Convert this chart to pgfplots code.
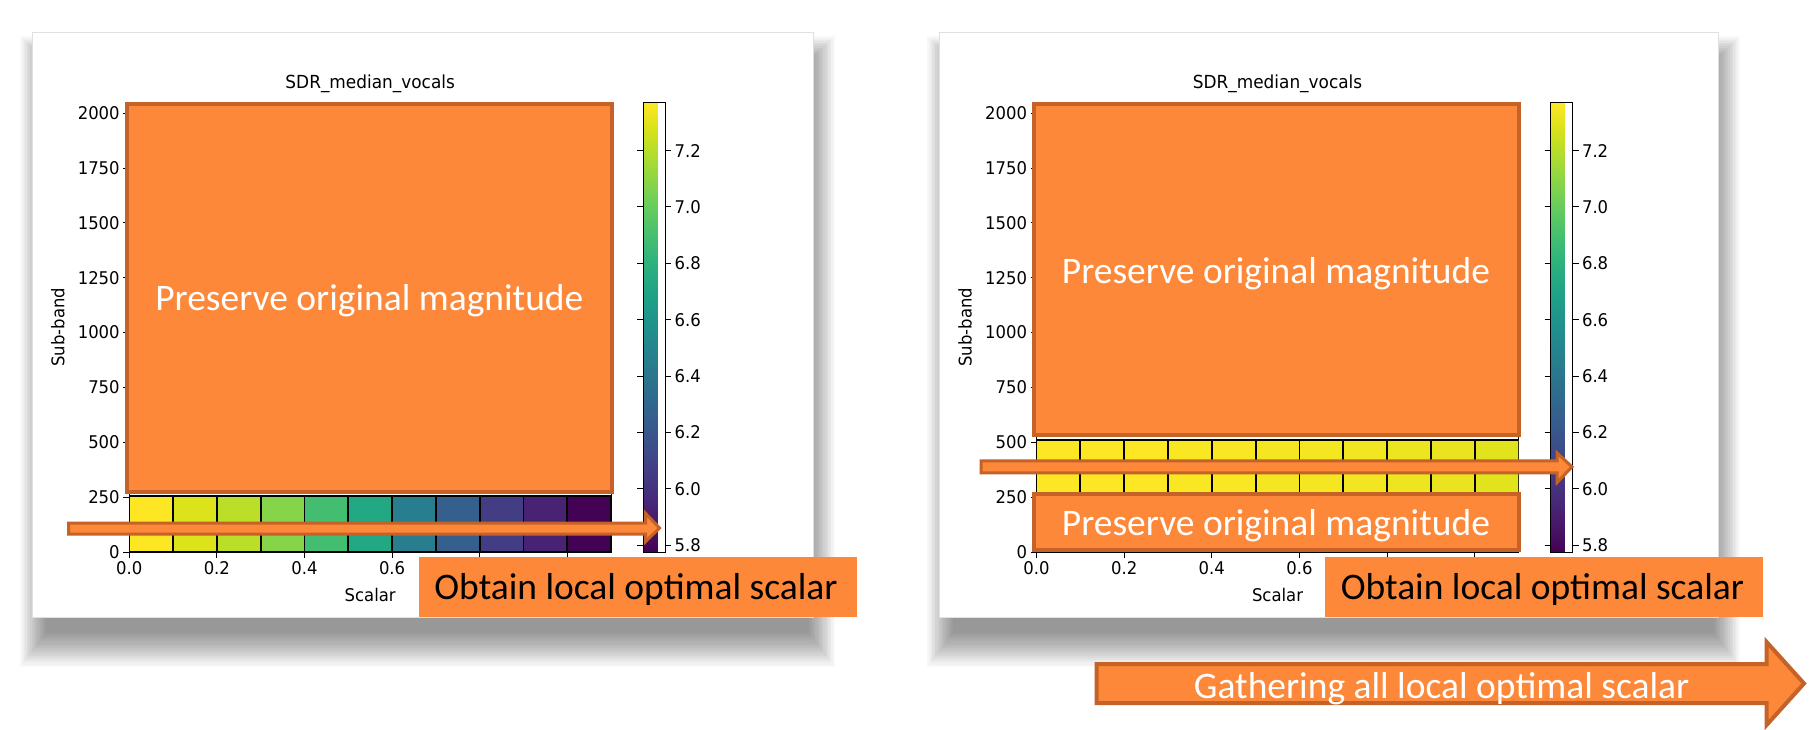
\documentclass[border=0pt]{standalone}
\usepackage{pgfplots}
\pgfplotsset{compat=1.18}
\usepackage{fontspec}
\setmainfont{DejaVu Sans}[FakeStretch=0.94]
\newfontfamily\calfont{Carlito}
\definecolor{org}{RGB}{253,136,57}
\definecolor{orgd}{RGB}{196,98,40}
\pgfkeys{/pgf/number format/assume math mode=true}
\pgfplotsset{
  hm/.style={
    scale only axis, width=482pt, height=449.3pt, anchor=south west,
    xmin=0, xmax=1.1, ymin=0, ymax=2048,
    xtick={0,0.2,0.4,0.6,0.8,1.0}, xticklabels={0.0,0.2,0.4,0.6,{},{}},
    ytick={0,250,500,750,1000,1250,1500,1750,2000},
    yticklabel style={/pgf/number format/set thousands separator={}},
    xtick pos=left, ytick pos=left,
    tick align=outside, major tick length=6pt,
    every tick/.style={black, line width=1pt},
    axis line style={line width=1pt},
    tick label style={font=\fontsize{17.5}{18}\selectfont, text=black},
    title style={font=\fontsize{18}{20}\selectfont},
    label style={font=\fontsize{17.5}{18}\selectfont},
    title={SDR\_median\_vocals},
    xlabel={Scalar}, ylabel={Sub-band},
    x label style={at={(axis description cs:0.5,-0.0964)}, anchor=center},
    y label style={at={(axis description cs:-0.148,0.5)}, anchor=center},
    colormap name=viridis,
    point meta min=5.776, point meta max=7.370,
    colorbar,
    colorbar shift/.style={xshift=32pt},
    colorbar style={
      at={(parent axis.north east)}, anchor=north west,
      scale only axis, width=22pt,
      ytick={5.8,6.0,6.2,6.4,6.6,6.8,7.0,7.2},
      yticklabel style={/pgf/number format/.cd, fixed, fixed zerofill, precision=1},
      tick label style={font=\fontsize{17.5}{18}\selectfont},
      tick align=outside, major tick length=6pt,
      every tick/.style={black, line width=1pt},
      axis line style={line width=1pt},
    },
  },
  cells/.style={patch, patch type=rectangle, shader=faceted, faceted color=black, line width=1.8pt, point meta=explicit},
}
% left panel: sub-band 0-256, one cell per scalar step (corners x y, value c)
\pgfplotstableread{
x y c
0.0 0 7.37
0.1 0 7.37
0.1 256 7.37
0.0 256 7.37
0.1 0 7.29
0.2 0 7.29
0.2 256 7.29
0.1 256 7.29
0.2 0 7.21
0.3 0 7.21
0.3 256 7.21
0.2 256 7.21
0.3 0 7.08
0.4 0 7.08
0.4 256 7.08
0.3 256 7.08
0.4 0 6.89
0.5 0 6.89
0.5 256 6.89
0.4 256 6.89
0.5 0 6.73
0.6 0 6.73
0.6 256 6.73
0.5 256 6.73
0.6 0 6.45
0.7 0 6.45
0.7 256 6.45
0.6 256 6.45
0.7 0 6.25
0.8 0 6.25
0.8 256 6.25
0.7 256 6.25
0.8 0 6.06
0.9 0 6.06
0.9 256 6.06
0.8 256 6.06
0.9 0 5.93
1.0 0 5.93
1.0 256 5.93
0.9 256 5.93
1.0 0 5.78
1.1 0 5.78
1.1 256 5.78
1.0 256 5.78
}\leftdata
% right panel: sub-band 256-512
\pgfplotstableread{
x y c
0.0 256 7.37
0.1 256 7.37
0.1 512 7.37
0.0 512 7.37
0.1 256 7.37
0.2 256 7.37
0.2 512 7.37
0.1 512 7.37
0.2 256 7.37
0.3 256 7.37
0.3 512 7.37
0.2 512 7.37
0.3 256 7.36
0.4 256 7.36
0.4 512 7.36
0.3 512 7.36
0.4 256 7.36
0.5 256 7.36
0.5 512 7.36
0.4 512 7.36
0.5 256 7.35
0.6 256 7.35
0.6 512 7.35
0.5 512 7.35
0.6 256 7.35
0.7 256 7.35
0.7 512 7.35
0.6 512 7.35
0.7 256 7.34
0.8 256 7.34
0.8 512 7.34
0.7 512 7.34
0.8 256 7.33
0.9 256 7.33
0.9 512 7.33
0.8 512 7.33
0.9 256 7.32
1.0 256 7.32
1.0 512 7.32
0.9 512 7.32
1.0 256 7.30
1.1 256 7.30
1.1 512 7.30
1.0 512 7.30
}\rightdata
\begin{document}
\begin{tikzpicture}
\begin{scope}[x=1pt,y=1pt]
\useasboundingbox (0,0) rectangle (1809,729);
\fill[white] (0,0) rectangle (1809,729);
% card shadows
\foreach \k in {0,...,16}{
  \fill[black, opacity=0.027] (46-\k*1.6, 96-\k*2.1) rectangle (809+\k*1.6, 667+\k*1.6);
  \fill[black, opacity=0.027] (953-\k*1.6, 96-\k*2.1) rectangle (1714+\k*1.6, 667+\k*1.6);
}
% cards
\filldraw[fill=white, draw=black!12, line width=0.8pt] (32,112) rectangle (813,697);
\filldraw[fill=white, draw=black!12, line width=0.8pt] (939,112) rectangle (1718,697);
\end{scope}
% left panel
\begin{axis}[hm, at={(129.2pt,177pt)}]
\addplot[cells] table[x=x, y=y, meta=c] {\leftdata};
\end{axis}
% right panel
\begin{axis}[hm, at={(1036.5pt,177pt)}]
\addplot[cells] table[x=x, y=y, meta=c] {\rightdata};
\end{axis}
\begin{scope}[x=1pt,y=1pt]
% overlays left
\filldraw[fill=org, draw=orgd, line width=4pt] (127,237) rectangle (612,625.3);
\node[anchor=base, text=white, font=\calfont\fontsize{37.5}{40}\selectfont] at (369.3,418.2) {Preserve original magnitude};
\filldraw[fill=org, draw=orgd, line width=3pt, line join=miter]
  (68.5,195) -- (645.7,195) -- (645.7,187.5) -- (659.5,201) -- (645.7,215.5) -- (645.7,206) -- (68.5,206) -- cycle;
\fill[org] (419,112) rectangle (857,172.5);
\node[anchor=base, text=black, font=\calfont\fontsize{37.5}{40}\selectfont] at (636,130) {Obtain local optimal scalar};
% overlays right
\filldraw[fill=org, draw=orgd, line width=4pt] (1033.7,293.7) rectangle (1518.7,625.3);
\node[anchor=base, text=white, font=\calfont\fontsize{37.5}{40}\selectfont] at (1275.9,445) {Preserve original magnitude};
\filldraw[fill=org, draw=orgd, line width=4pt] (1033.7,179) rectangle (1518.7,234.7);
\node[anchor=base, text=white, font=\calfont\fontsize{37.5}{40}\selectfont] at (1275.9,194) {Preserve original magnitude};
\filldraw[fill=org, draw=orgd, line width=3pt, line join=miter]
  (981,256.2) -- (1557,256.2) -- (1557,246.5) -- (1572,262.2) -- (1557,276) -- (1557,268.2) -- (981,268.2) -- cycle;
\fill[org] (1325.2,112) rectangle (1763,172.5);
\node[anchor=base, text=black, font=\calfont\fontsize{37.5}{40}\selectfont] at (1542.4,130) {Obtain local optimal scalar};
% bottom arrow
\filldraw[fill=org, draw=orgd, line width=4pt, line join=miter]
  (1096.6,26) -- (1766.6,26) -- (1766.6,4) -- (1804,45.5) -- (1766.6,87) -- (1766.6,65) -- (1096.6,65) -- cycle;
\node[anchor=base, text=white, font=\calfont\fontsize{37.5}{40}\selectfont] at (1441.6,30.7) {Gathering all local optimal scalar};
\end{scope}
\end{tikzpicture}
\end{document}
